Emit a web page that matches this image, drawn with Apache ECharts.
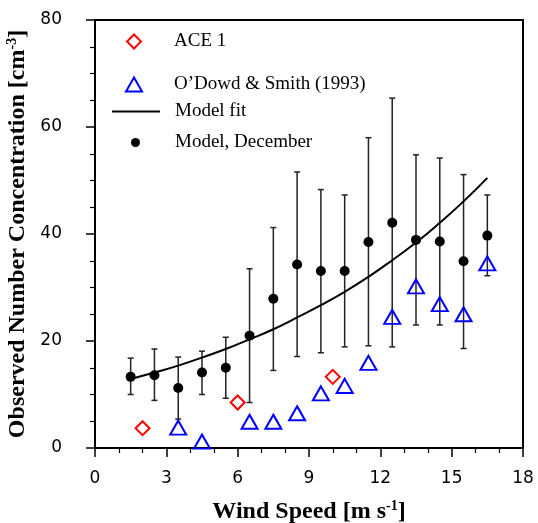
<!DOCTYPE html>
<html>
<head>
<meta charset="utf-8">
<script src="https://cdn.jsdelivr.net/npm/echarts@6/dist/echarts.min.js"></script>
<style>
  html, body { margin: 0; padding: 0; background: #fff; }
  #chart { width: 538px; height: 523px; }
</style>
</head>
<body>
<div id="chart"></div>
<script>
// wind speed bins for the model
const modelX = [1.5, 2.5, 3.5, 4.5, 5.5, 6.5, 7.5, 8.5, 9.5, 10.5, 11.5, 12.5, 13.5, 14.5, 15.5, 16.5];
const modelMean = [13.3, 13.6, 11.2, 14.1, 15.0, 21.0, 27.9, 34.3, 33.1, 33.1, 38.5, 42.1, 38.9, 38.6, 34.9, 39.7];
const modelLow = [10.0, 8.9, 5.4, 10.0, 9.3, 8.5, 14.5, 17.1, 17.8, 18.9, 19.1, 18.9, 23.0, 23.0, 18.6, 32.2];
const modelHigh = [16.8, 18.5, 17.0, 18.1, 20.7, 33.5, 41.2, 51.6, 48.3, 47.3, 58.0, 65.4, 54.8, 54.2, 51.1, 47.3];

const fitY = [12.9, 14.1, 15.4, 16.9, 18.5, 20.3, 22.2, 24.4, 26.7, 29.2, 32.0, 35.1, 38.4, 42.1, 46.1, 50.5];

// ACE 1 observations
const aceX = [2, 6, 10];
const aceY = [3.7, 8.5, 13.3];

// O'Dowd & Smith (1993)
const odsX = [3.5, 4.5, 6.5, 7.5, 8.5, 9.5, 10.5, 11.5, 12.5, 13.5, 14.5, 15.5, 16.5];
const odsY = [3.8, 1.2, 4.9, 4.9, 6.5, 10.2, 11.6, 15.9, 24.5, 30.2, 26.9, 25.0, 34.5];

const xTicks = { min: 0, max: 18, interval: 3 };
const yTicks = { min: 0, max: 80, interval: 20 };

const zip = (a, b) => a.map((v, i) => [v, b[i]]);

const chart = echarts.init(document.getElementById('chart'));

const serif = 'Liberation Serif';
const legendText = (pad) => ({ fontFamily: serif, fontSize: 19, color: '#000', padding: [0, 0, 0, pad] });
const titleStyle = {
  fontFamily: serif, fontWeight: 'bold', fontSize: 24, color: '#000',
  rich: { sup: { fontFamily: serif, fontWeight: 'bold', fontSize: 14, color: '#000', padding: [0, 0, 11, 0] } }
};

const option = {
  animation: false,
  grid: {
    left: 95, right: 15, top: 20, bottom: 75, outerBoundsMode: 'none', containLabel: false,
    show: true, borderColor: '#000', borderWidth: 2
  },
  legend: [
    { data: ['ACE 1'], left: 126, top: 32, padding: 0, itemWidth: 14, itemHeight: 14, selectedMode: false, textStyle: legendText(28) },
    { data: ['O\u2019Dowd & Smith (1993)'], left: 125, top: 75, padding: 0, itemWidth: 16, itemHeight: 14, selectedMode: false, textStyle: legendText(27) },
    { data: ['Model fit'], left: 112, top: 102, padding: 0, icon: 'rect', itemWidth: 48, itemHeight: 2, selectedMode: false, textStyle: legendText(10) },
    { data: ['Model, December'], left: 131, top: 133, padding: 0, itemWidth: 9, itemHeight: 9, selectedMode: false, textStyle: legendText(30) }
  ],
  xAxis: {
    type: 'value', min: xTicks.min, max: xTicks.max, interval: xTicks.interval,
    name: 'Wind Speed [m s{sup|-1}]',
    nameLocation: 'middle', nameGap: 51,
    nameTextStyle: titleStyle,
    axisLine: { onZero: false, lineStyle: { color: '#000', width: 2 } },
    axisTick: { length: 9, lineStyle: { color: '#000', width: 1.5 } },
    minorTick: { show: true, splitNumber: 3, length: 5, lineStyle: { color: '#000', width: 1.2 } },
    axisLabel: { margin: 22, fontFamily: 'DejaVu Sans', fontSize: 17, color: '#000' },
    splitLine: { show: false }
  },
  yAxis: {
    type: 'value', min: yTicks.min, max: yTicks.max, interval: yTicks.interval,
    name: 'Observed Number Concentration [cm{sup|-3}]',
    nameLocation: 'middle', nameGap: 51, nameRotate: 90,
    nameTextStyle: titleStyle,
    axisLine: { onZero: false, lineStyle: { color: '#000', width: 2 } },
    axisTick: { length: 9, lineStyle: { color: '#000', width: 1.5 } },
    minorTick: { show: true, splitNumber: 4, length: 5, lineStyle: { color: '#000', width: 1.2 } },
    axisLabel: { margin: 33, fontFamily: 'DejaVu Sans', fontSize: 17, color: '#000' },
    splitLine: { show: false }
  },
  series: [
    {
      type: 'custom',
      name: 'errors',
      z: 2,
      data: modelX.map((x, i) => [x, modelLow[i], modelHigh[i]]),
      renderItem(params, api) {
        const x = api.value(0);
        const lo = api.coord([x, api.value(1)]);
        const hi = api.coord([x, api.value(2)]);
        const cap = 3;
        const st = { stroke: '#222', lineWidth: 1.5 };
        return {
          type: 'group',
          children: [
            { type: 'line', shape: { x1: hi[0], y1: hi[1], x2: lo[0], y2: lo[1] }, style: st },
            { type: 'line', shape: { x1: hi[0] - cap, y1: hi[1], x2: hi[0] + cap, y2: hi[1] }, style: st },
            { type: 'line', shape: { x1: lo[0] - cap, y1: lo[1], x2: lo[0] + cap, y2: lo[1] }, style: st }
          ]
        };
      }
    },
    {
      type: 'line',
      name: 'Model fit',
      z: 3,
      smooth: true,
      symbol: 'none',
      data: zip(modelX, fitY),
      lineStyle: { color: '#000', width: 2 },
      itemStyle: { color: '#000' }
    },
    {
      type: 'scatter',
      name: 'ACE 1',
      z: 4,
      symbol: 'diamond',
      symbolSize: [14, 14],
      data: zip(aceX, aceY),
      itemStyle: { color: 'rgba(0,0,0,0)', borderColor: '#ff0000', borderWidth: 2, opacity: 1 }
    },
    {
      type: 'scatter',
      name: 'O\u2019Dowd & Smith (1993)',
      z: 4,
      symbol: 'triangle',
      symbolSize: [16, 14],
      data: zip(odsX, odsY),
      itemStyle: { color: 'rgba(0,0,0,0)', borderColor: '#0000ff', borderWidth: 2, opacity: 1 }
    },
    {
      type: 'scatter',
      name: 'Model, December',
      z: 5,
      symbol: 'circle',
      symbolSize: 10,
      data: zip(modelX, modelMean),
      itemStyle: { color: '#000', opacity: 1 }
    }
  ]
};

chart.setOption(option);
</script>
</body>
</html>
